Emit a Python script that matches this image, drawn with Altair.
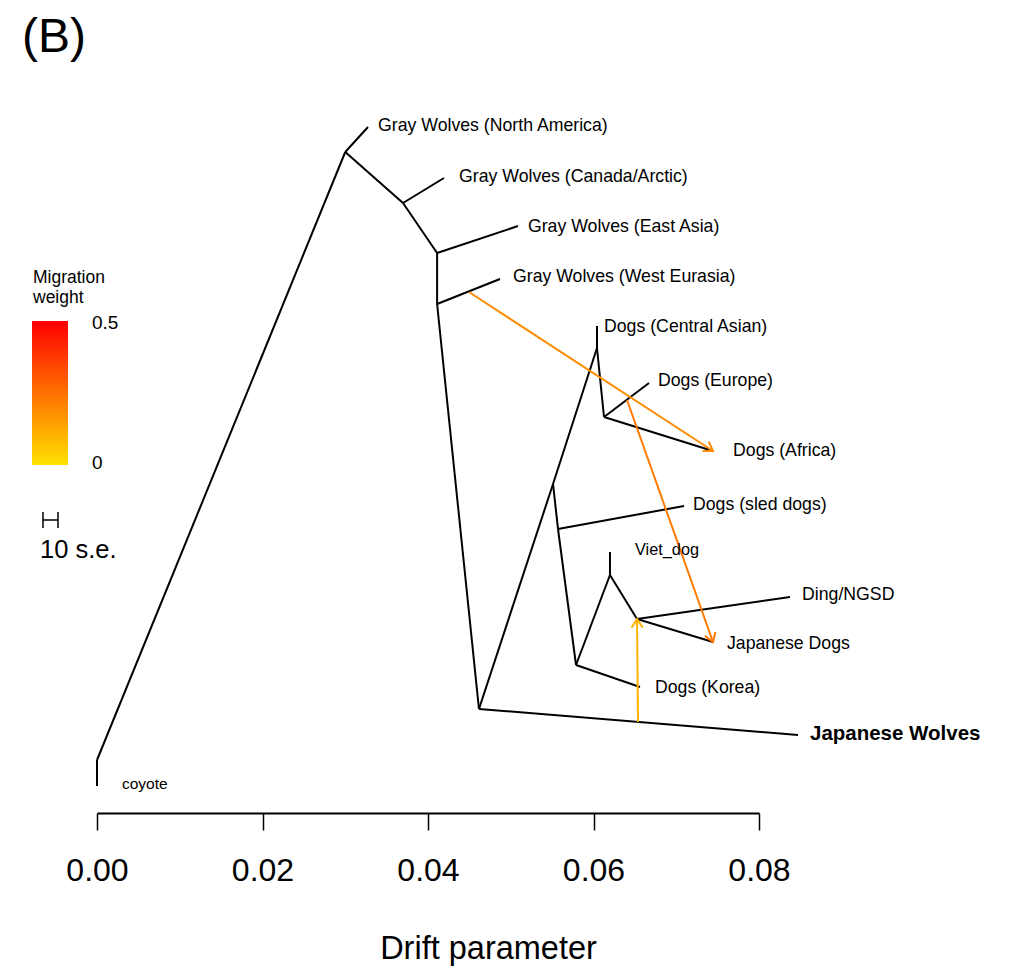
import math
import altair as alt
import pandas as pd

# ---- tree nodes: name, drift (x), vertical row (0 = top) ----
node_names = ["root", "coyote", "A", "NA", "B", "Canada", "C", "EastAsia", "D", "WestEurasia",
              "E", "JW", "H", "F", "CentralAsian", "G", "Europe", "Africa", "I", "sled",
              "J", "K", "Viet", "L", "Ding", "JapDogs", "Korea"]
node_drift = [0.0, 0.0, 0.0300, 0.03275, 0.03698, 0.04193, 0.0411, 0.05088, 0.0411, 0.0487,
              0.04616, 0.08471, 0.05511, 0.06042, 0.06042, 0.06127, 0.06671, 0.07444, 0.05571, 0.07094,
              0.05789, 0.06199, 0.06199, 0.06526, 0.08375, 0.07444, 0.06562]
node_row = [13.66, 14.18, 1.50, 1.00, 2.52, 2.02, 3.52, 2.98, 4.54, 4.04,
            12.64, 13.16, 8.14, 5.42, 4.98, 6.80, 6.12, 7.48, 9.04, 8.58,
            11.76, 9.96, 9.50, 10.84, 10.40, 11.30, 12.20]

edge_parent = ["root", "root", "A", "A", "B", "B", "C", "C", "D", "D", "E", "E", "H", "F", "F",
               "G", "G", "H", "I", "I", "J", "K", "K", "L", "L", "J"]
edge_child = ["coyote", "A", "NA", "B", "Canada", "C", "EastAsia", "D", "WestEurasia", "E", "JW", "H",
              "F", "CentralAsian", "G", "Europe", "Africa", "I", "sled", "J", "K", "Viet", "L", "Ding",
              "JapDogs", "Korea"]

# ---- leaf labels ----
label_text = ["Gray Wolves (North America)", "Gray Wolves (Canada/Arctic)", "Gray Wolves (East Asia)",
              "Gray Wolves (West Eurasia)", "Dogs (Central Asian)", "Dogs (Europe)", "Dogs (Africa)",
              "Dogs (sled dogs)", "Viet_dog", "Ding/NGSD", "Japanese Dogs", "Dogs (Korea)",
              "Japanese Wolves", "coyote"]
label_drift = [0.03396, 0.04375, 0.05208, 0.05027, 0.06127, 0.06779, 0.07686,
               0.07202, 0.06502, 0.0852, 0.07613, 0.06743, 0.08616, 0.00302]
label_row = [0.98, 2.00, 3.00, 4.00, 5.00, 6.08, 7.48, 8.56, 9.46, 10.36, 11.34, 12.22, 13.14, 14.14]
label_kind = ["normal"] * 8 + ["small"] + ["normal"] * 3 + ["bold", "tiny"]

# ---- migration edges ----
mig_x1 = [0.04495, 0.06405, 0.06538]
mig_y1 = [4.30, 6.46, 12.90]
mig_x2 = [0.07444, 0.07444, 0.06526]
mig_y2 = [7.48, 11.30, 10.84]
mig_weight = [0.19, 0.23, 0.10]

FONT = "Liberation Sans"
W, H = 662, 736
X_DOMAIN = [0, 0.08]
Y_DOMAIN = [0, 14.72]
PX_X = W / (X_DOMAIN[1] - X_DOMAIN[0])
PX_Y = H / (Y_DOMAIN[1] - Y_DOMAIN[0])

pos = {n: (x, y) for n, x, y in zip(node_names, node_drift, node_row)}
edges = pd.DataFrame({
    "x": [pos[p][0] for p in edge_parent],
    "y": [pos[p][1] for p in edge_parent],
    "x2": [pos[c][0] for c in edge_child],
    "y2": [pos[c][1] for c in edge_child],
})
labels = pd.DataFrame({"x": label_drift, "y": label_row, "t": label_text, "k": label_kind})
mig = pd.DataFrame({"x": mig_x1, "y": mig_y1, "x2": mig_x2, "y2": mig_y2, "w": mig_weight})
mig["angle"] = [
    math.degrees(math.atan2((b2 - b1) * PX_Y, (a2 - a1) * PX_X)) % 360
    for a1, b1, a2, b2 in zip(mig_x1, mig_y1, mig_x2, mig_y2)
]

xs = alt.Scale(domain=X_DOMAIN, nice=False, zero=False)
ys = alt.Scale(domain=Y_DOMAIN, reverse=True, nice=False, zero=False)
cs = alt.Scale(domain=[0, 0.5], range=["#FFE100", "#FF0000"], interpolate="rgb")

xaxis = alt.Axis(values=[0, 0.02, 0.04, 0.06, 0.08], format=".2f", grid=False,
                 domainColor="black", domainWidth=1.8, tickColor="black", tickWidth=1.5,
                 tickSize=17, labelFontSize=32, labelFont=FONT, labelColor="black",
                 labelFlush=False, labelOverlap=False,
                 labelPadding=25, title="Drift parameter", titleFont=FONT, titleFontSize=32.5,
                 titleFontWeight="normal", titleColor="black", titlePadding=46, titleX=391)

branches = alt.Chart(edges).mark_rule(color="black", strokeWidth=2).encode(
    x=alt.X("x:Q", scale=xs, axis=xaxis),
    x2="x2:Q",
    y=alt.Y("y:Q", scale=ys, axis=None),
    y2="y2:Q",
)

mig_lines = alt.Chart(mig).mark_rule(strokeWidth=2).encode(
    x="x:Q", x2="x2:Q", y="y:Q", y2="y2:Q",
    color=alt.Color("w:Q", scale=cs, legend=None),
)
mig_heads = alt.Chart(mig).mark_point(shape="M-1,-0.65L0,0L-1,0.65", filled=False,
                                       strokeWidth=2, size=300, opacity=1).encode(
    x="x2:Q", y="y2:Q", angle=alt.Angle("angle:Q", scale=None),
    stroke=alt.Stroke("w:Q", scale=cs, legend=None),
)

lab_normal = alt.Chart(labels).transform_filter(alt.datum.k == "normal").mark_text(
    align="left", baseline="middle", font=FONT, fontSize=17.7, color="black").encode(
    x="x:Q", y="y:Q", text="t:N")
lab_small = alt.Chart(labels).transform_filter(alt.datum.k == "small").mark_text(
    align="left", baseline="middle", font=FONT, fontSize=16.3, color="black").encode(
    x="x:Q", y="y:Q", text="t:N")
lab_tiny = alt.Chart(labels).transform_filter(alt.datum.k == "tiny").mark_text(
    align="left", baseline="middle", font=FONT, fontSize=15.5, color="black").encode(
    x="x:Q", y="y:Q", text="t:N")
lab_bold = alt.Chart(labels).transform_filter(alt.datum.k == "bold").mark_text(
    align="left", baseline="middle", font=FONT, fontSize=20.5, fontWeight="bold", color="black").encode(
    x="x:Q", y="y:Q", text="t:N")

one = pd.DataFrame({"a": [0]})


def txt(s, x, y, size, align="left", baseline="middle"):
    return alt.Chart(one).mark_text(text=s, align=align, baseline=baseline, font=FONT,
                                    fontSize=size, color="black").encode(
        x=alt.value(x), y=alt.value(y))


gradient = alt.Chart(one).mark_rect(
    fill={"gradient": "linear", "x1": 0, "x2": 0, "y1": 1, "y2": 0,
          "stops": [{"offset": 0, "color": "#FFE100"}, {"offset": 1, "color": "#FF0000"}]},
).encode(x=alt.value(-65), x2=alt.value(-29), y=alt.value(244), y2=alt.value(388))

se_h = alt.Chart(one).mark_rule(color="black", strokeWidth=1.5).encode(
    x=alt.value(-54), x2=alt.value(-39), y=alt.value(443))
se_l = alt.Chart(one).mark_rule(color="black", strokeWidth=1.5).encode(
    x=alt.value(-54), y=alt.value(435), y2=alt.value(451))
se_r = alt.Chart(one).mark_rule(color="black", strokeWidth=1.5).encode(
    x=alt.value(-39), y=alt.value(435), y2=alt.value(451))

chart = alt.layer(
    branches, mig_lines, mig_heads, lab_normal, lab_small, lab_tiny, lab_bold,
    gradient, se_h, se_l, se_r,
    txt("Migration", -64, 201, 17.5), txt("weight", -64, 221, 17.5),
    txt("0.5", -5, 246, 19), txt("0", -5, 386, 19),
    txt("10 s.e.", -57, 473, 25.5),
    txt("(B)", -75, -39, 48),
).properties(
    width=W, height=H,
    autosize=alt.AutoSizeParams(type="none"),
    padding={"left": 97, "top": 77, "right": 251, "bottom": 154},
    background="white",
).configure_view(stroke=None)

chart.save("out.html", embed_options={"renderer": "svg", "actions": False})
